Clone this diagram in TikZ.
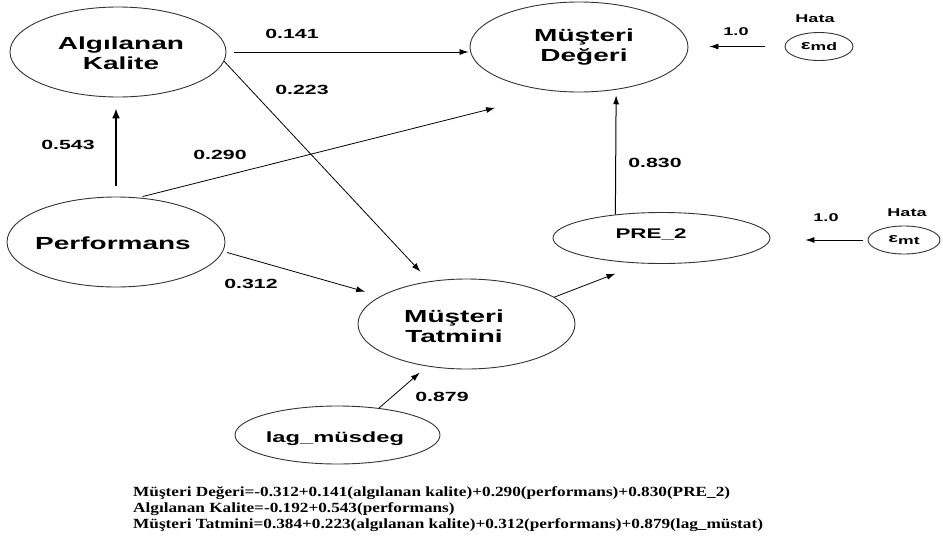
\documentclass[tikz,border=0pt]{standalone}
\usepackage{fontspec}
\setmainfont{Liberation Serif}
% wide sans for the path diagram, slightly wide serif for the equations
\newfontfamily\lblfont[FakeStretch=1.6]{Liberation Sans}
\newfontfamily\eqfont[FakeStretch=1.23]{Liberation Serif}
\usetikzlibrary{arrows.meta,shapes.geometric}

\tikzset{
  ell/.style={ellipse, draw=black!80, line width=0.9pt, inner sep=0pt},
  big/.style={font=\lblfont\bfseries\fontsize{17.5}{20}\selectfont, align=center, inner sep=0pt},
  mid/.style={font=\lblfont\bfseries\fontsize{14}{16}\selectfont, inner sep=0pt},
  num/.style={font=\lblfont\bfseries\fontsize{13.3}{15}\selectfont, inner sep=0pt},
  small/.style={font=\lblfont\bfseries\fontsize{11.3}{13}\selectfont, inner sep=0pt},
  arr/.style={-{Latex[length=9pt,width=6pt]}, line width=0.8pt, black},
  eqn/.style={font=\eqfont\bfseries\fontsize{14}{16}\selectfont, anchor=base west, inner sep=0pt},
}

\begin{document}
\begin{tikzpicture}[x=1pt,y=-1pt]
\useasboundingbox (0,0) rectangle (943,544);
\fill[white] (0,0) rectangle (943,544);

% latent variables
\node[ell, minimum width=216pt, minimum height=90pt] (AK) at (118,52) {};
\node[big] (AKt) at (121,53) {Algılanan\\Kalite};
\node[ell, minimum width=218pt, minimum height=90pt] (MD) at (579,47) {};
\node[big] (MDt) at (584,47) {Müşteri\\Değeri};
\node[ell, minimum width=218pt, minimum height=90pt] (PF) at (116,242) {};
\node[big] (PFt) at (113,243) {Performans};
\node[ell, minimum width=217pt, minimum height=90pt] (MT) at (466.5,324) {};
\node[big] (MTt) at (454,326) {Müşteri\\Tatmini};
\node[ell, minimum width=217pt, minimum height=51pt] (PRE) at (661.5,238) {};
\node[mid] (PREt) at (651,234) {PRE\_2};
\node[ell, minimum width=205pt, minimum height=58pt] (LAG) at (337.5,435) {};
\node[mid, font=\lblfont\bfseries\fontsize{14.8}{16}\selectfont] (LAGt) at (335,439) {lag\_müsdeg};

% error terms
\node[ell, minimum width=68pt, minimum height=28pt] (EMD) at (819,46.5)
  {\lblfont\bfseries{\fontsize{13}{13}\selectfont ε}\raisebox{-1.5pt}{\fontsize{11}{11}\selectfont md}};
\node[small] (EMDh) at (815,19) {Hata};
\node[small] (EMDw) at (736,32) {1.0};
\node[ell, minimum width=72pt, minimum height=28pt] (EMT) at (904,240)
  {\lblfont\bfseries{\fontsize{13}{13}\selectfont ε}\raisebox{-1.5pt}{\fontsize{11}{11}\selectfont mt}};
\node[small] (EMTh) at (907,213) {Hata};
\node[small] (EMTw) at (826,218) {1.0};

% paths
\draw[arr, line width=1.6pt, -{Latex[length=10pt,width=8pt]}, shorten <=11pt, shorten >=11pt]
  (PF.north) -- (PF.north |- AK.south);
\draw[arr, shorten <=8pt, shorten >=1pt] (AK.east) -- (AK.east -| MD.west);
\draw[arr, shorten >=13pt] (AK.-5.4) -- (MT.131.5);
\draw[arr, shorten <=4pt, shorten >=66pt] (PF.63.4) -- (MD.246);
\draw[arr, shorten <=4pt, shorten >=16pt] (PF.-5.9) -- (MT.162.1);
\draw[arr, shorten >=9.6pt] (LAG.33.3) -- (MT.227.3);
\draw[arr, shorten >=28pt] (MT.17.3) -- (PRE.232.1);
\draw[arr, line width=1pt, shorten >=5.5pt] (PRE.153.7) -- (MD.-49.7);
\draw[arr, shorten <=20pt, shorten >=21pt] (EMD.west) -- (EMD.west -| MD.east);
\draw[arr, shorten <=5pt, shorten >=35pt] (EMT.west) -- (EMT.west -| PRE.east);

% path coefficients
\node[num] (c141) at (292,34) {0.141};
\node[num] (c223) at (302,90) {0.223};
\node[num] (c543) at (68,145) {0.543};
\node[num] (c290) at (220,155) {0.290};
\node[num] (c312) at (251,284) {0.312};
\node[num] (c879) at (442,397) {0.879};
\node[num] (c830) at (655,163) {0.830};

% structural equations
\node[eqn] (eq1) at (133,496) {Müşteri Değeri=-0.312+0.141(algılanan kalite)+0.290(performans)+0.830(PRE\_2)};
\node[eqn] (eq2) at (133,512) {Algılanan Kalite=-0.192+0.543(performans)};
\node[eqn] (eq3) at (133,528) {Müşteri Tatmini=0.384+0.223(algılanan kalite)+0.312(performans)+0.879(lag\_müstat)};
\end{tikzpicture}
\end{document}
